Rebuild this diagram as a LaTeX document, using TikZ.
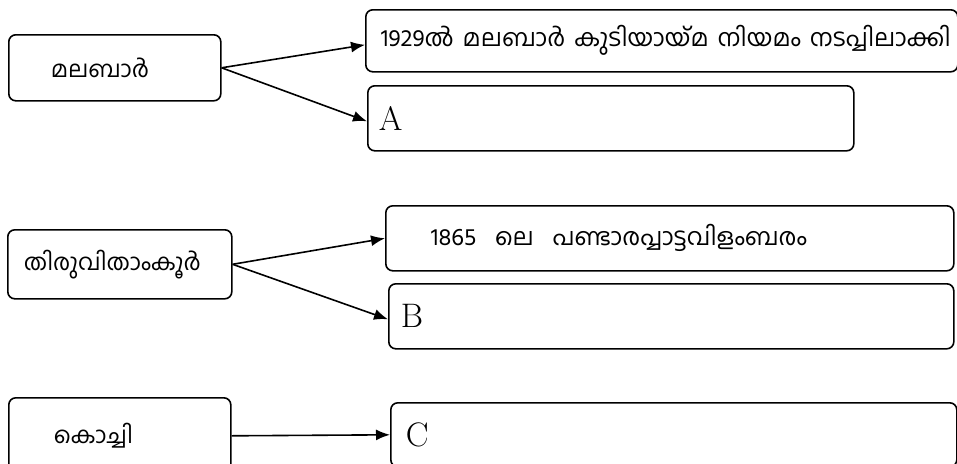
\documentclass[tikz,border=0pt]{standalone}
\usepackage{fontspec}
\newfontfamily\ml[Script=Malayalam]{Hind Kochi}
\usetikzlibrary{arrows.meta}
\tikzset{
  box/.style={draw, rounded corners=7pt, line width=1.6pt, anchor=north west, inner ysep=0pt},
  arr/.style={-{Latex[length=14pt,width=11pt]}, line width=1.6pt},
  mltext/.style={font=\ml\fontsize{23}{27}\selectfont},
  mlbig/.style={font=\ml\fontsize{24}{28}\selectfont},
  lattext/.style={font=\fontsize{34}{38}\selectfont}
}
\begin{document}
\begin{tikzpicture}[x=1pt,y=-1pt]
\useasboundingbox (0,0) rectangle (957,463);
\clip (0,0) rectangle (957,463);
% Malabar
\node[box, mltext, minimum width=212pt, minimum height=66pt, inner xsep=42pt] (mal) at (8,34) {\makebox[128pt][l]{മലബാർ}};
\node[box, mlbig, minimum width=592pt, minimum height=62pt, inner xsep=15pt] (m1) at (365,9) {\makebox[562pt][l]{1929ൽ\hspace{3pt} മലബാർ\hspace{3pt} കുടിയായ്മ\hspace{3pt} നിയമം\hspace{3pt} നടപ്പിലാക്കി}};
\node[box, lattext, minimum width=486pt, minimum height=65pt, inner xsep=11pt] (ma) at (367,85) {\makebox[464pt][l]{A}};
% Travancore
\node[box, mltext, minimum width=224pt, minimum height=69pt, inner xsep=16pt] (tr) at (7,229) {\makebox[192pt][l]{തിരുവിതാംകൂർ}};
\node[box, mlbig, minimum width=568pt, minimum height=65pt, inner xsep=45pt] (t1) at (385,205) {\makebox[478pt][l]{1865\hspace{13pt} ലെ\hspace{13pt} പണ്ടാരപ്പാട്ടവിളംബരം}};
\node[box, lattext, minimum width=565pt, minimum height=65pt, inner xsep=12pt] (tb) at (388,283) {\makebox[541pt][l]{B}};
% Cochin
\node[box, mltext, minimum width=222pt, minimum height=76pt, inner xsep=45pt] (ko) at (8,397) {\makebox[132pt][l]{കൊച്ചി}};
\node[box, lattext, minimum width=566pt, minimum height=64pt, inner xsep=15pt] (kc) at (390,402) {\makebox[536pt][l]{C}};
% connectors
\draw[arr] (mal.east) -- ([yshift=-4pt]m1.west);
\draw[arr] (mal.east) -- ([yshift=-3pt]ma.west);
\draw[arr] (tr.east) -- (t1.west);
\draw[arr] (tr.east) -- ([yshift=-3pt]tb.west);
\draw[arr] (ko.east) -- (kc.west);
\end{tikzpicture}
\end{document}
